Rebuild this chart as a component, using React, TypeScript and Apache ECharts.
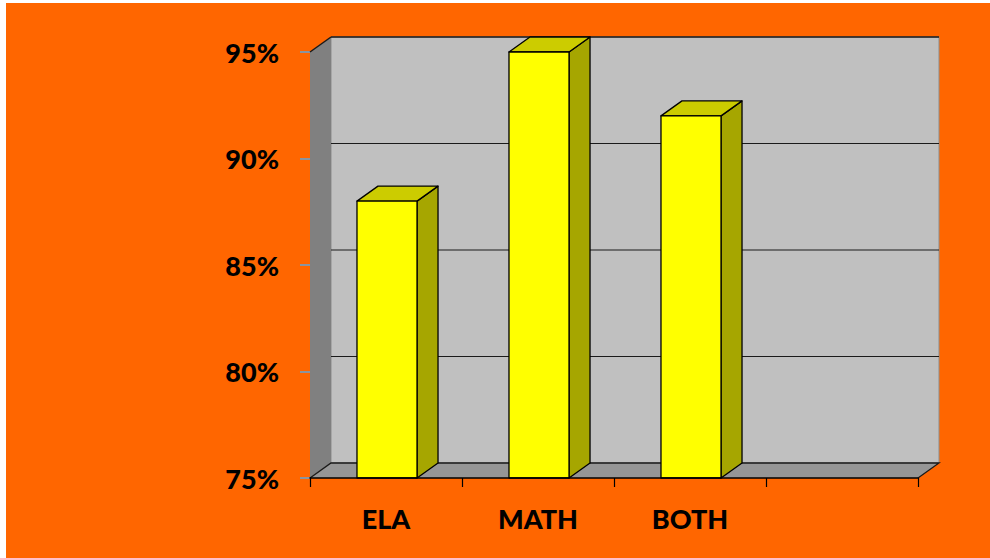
import React, { useEffect, useRef } from "react";
import * as echarts from "echarts";

const categories = ["ELA", "MATH", "BOTH", ""];
const values = [88, 95, 92];
const yMin = 75;
const yMax = 95;
const yStep = 5;
const gridValues = [80, 85, 90];

const DX = 21;
const DY = -15;
const FONT = "Lato, 'Open Sans', sans-serif";

export default function App() {
  const ref = useRef<HTMLDivElement>(null);
  useEffect(() => {
    if (!ref.current) return;
    const chart = echarts.init(ref.current, null, { renderer: "svg" });
    const option: any = {
      animation: false,
      backgroundColor: "transparent",
      graphic: [
        {
          type: "rect",
          z: -10,
          silent: true,
          shape: { x: 6, y: 3, width: 984, height: 555 },
          style: { fill: "#FF6600" },
        },
      ],
      grid: { left: 310, right: 72, top: 52, bottom: 80 },
      xAxis: {
        type: "category",
        data: categories,
        z: 10,
        axisLine: { show: true, lineStyle: { color: "#000", width: 1.5 } },
        axisTick: { show: true, length: 9, lineStyle: { color: "#000", width: 1.2 } },
        axisLabel: {
          color: "#000",
          fontFamily: FONT,
          fontWeight: 900,
          fontSize: 27,
          margin: 27,
        },
        splitLine: { show: false },
      },
      yAxis: {
        type: "value",
        min: yMin,
        max: yMax,
        interval: yStep,
        axisLine: { show: false },
        axisTick: { show: true, length: 10, lineStyle: { color: "#8a94a0", width: 2 } },
        axisLabel: {
          color: "#000",
          fontFamily: FONT,
          fontWeight: 900,
          fontSize: 27,
          margin: 31,
          formatter: "{value}%",
        },
        splitLine: { show: false },
      },
      series: [
        {
          type: "custom",
          z: 1,
          silent: true,
          data: [[0, yMin]],
          renderItem: (params: any, api: any) => {
            const cs = params.coordSys;
            const x = cs.x, y = cs.y, w = cs.width, h = cs.height;
            const children: any[] = [];
            children.push({
              type: "rect",
              shape: { x: x + DX, y: y + DY, width: w, height: h },
              style: { fill: "#C0C0C0", stroke: "#8c8c8c", lineWidth: 1 },
            });
            gridValues.forEach((v) => {
              const py = api.coord([0, v])[1] + DY;
              children.push({
                type: "line",
                shape: { x1: x + DX, y1: py, x2: x + w + DX, y2: py },
                style: { stroke: "#1a1a1a", lineWidth: 1.2 },
              });
            });
            children.push({
              type: "line",
              shape: { x1: x + DX, y1: y + DY, x2: x + w + DX, y2: y + DY },
              style: { stroke: "#1a1a1a", lineWidth: 1.5 },
            });
            children.push({
              type: "polygon",
              shape: {
                points: [
                  [x, y],
                  [x + DX, y + DY],
                  [x + DX, y + h + DY],
                  [x, y + h],
                ],
              },
              style: { fill: "#808080" },
            });
            children.push({
              type: "line",
              shape: { x1: x, y1: y, x2: x + DX, y2: y + DY },
              style: { stroke: "#1a1a1a", lineWidth: 1.5 },
            });
            children.push({
              type: "polygon",
              shape: {
                points: [
                  [x, y + h],
                  [x + DX, y + h + DY],
                  [x + w + DX, y + h + DY],
                  [x + w, y + h],
                ],
              },
              style: { fill: "#969696" },
            });
            children.push({
              type: "polyline",
              shape: {
                points: [
                  [x, y + h],
                  [x + DX, y + h + DY],
                  [x + w + DX, y + h + DY],
                  [x + w, y + h],
                ],
              },
              style: { stroke: "#1a1a1a", lineWidth: 1.3, fill: null },
            });
            return { type: "group", children };
          },
        },
        {
          type: "custom",
          z: 3,
          data: values.map((v, i) => [i, v]),
          renderItem: (params: any, api: any) => {
            const idx = api.value(0);
            const v = api.value(1);
            const top = api.coord([idx, v]);
            const base = api.coord([idx, yMin]);
            const bw = api.size([1, 0])[0] * 0.395;
            const x0 = top[0] - bw / 2 + 1;
            const x1 = x0 + bw;
            const ty = top[1];
            const by = base[1];
            const edge = { stroke: "#000", lineWidth: 1.3, lineJoin: "round" };
            return {
              type: "group",
              children: [
                {
                  type: "polygon",
                  shape: {
                    points: [
                      [x1, by],
                      [x1 + DX, by + DY],
                      [x1 + DX, ty + DY],
                      [x1, ty],
                    ],
                  },
                  style: { fill: "#A6A600", ...edge },
                },
                {
                  type: "polygon",
                  shape: {
                    points: [
                      [x0, ty],
                      [x0 + DX, ty + DY],
                      [x1 + DX, ty + DY],
                      [x1, ty],
                    ],
                  },
                  style: { fill: "#CCCC00", ...edge },
                },
                {
                  type: "rect",
                  shape: { x: x0, y: ty, width: bw, height: by - ty },
                  style: { fill: "#FFFF00", ...edge },
                },
              ],
            };
          },
        },
      ],
    };
    chart.setOption(option);
    return () => chart.dispose();
  }, []);
  return (
    <div
      ref={ref}
      style={{
        position: "absolute",
        left: 0,
        top: 0,
        width: 990,
        height: 558,
        background: "#ffffff",
      }}
    />
  );
}
